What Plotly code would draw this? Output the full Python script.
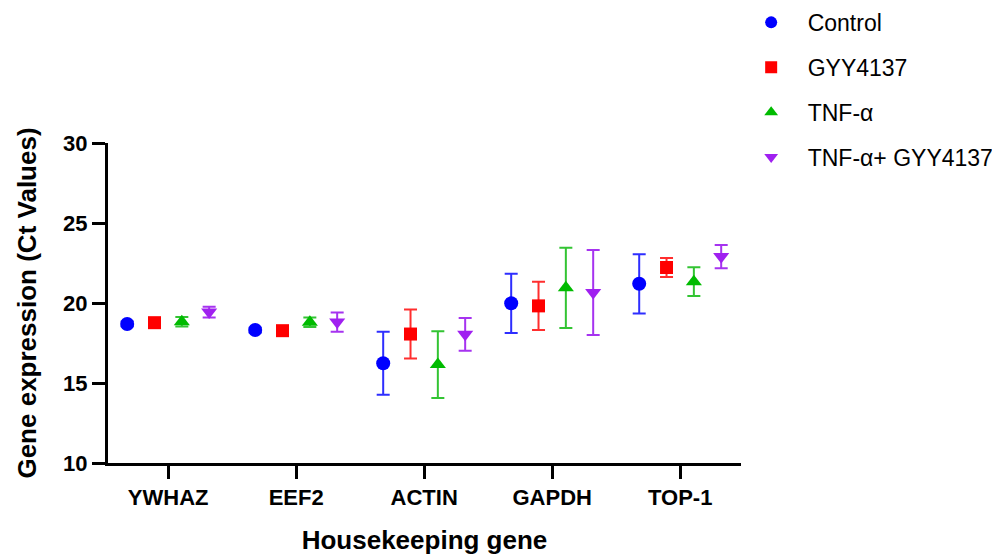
import plotly.graph_objects as go

genes = ["YWHAZ", "EEF2", "ACTIN", "GAPDH", "TOP-1"]
series_names = ["Control", "GYY4137", "TNF-α", "TNF-α+ GYY4137"]

control_mean = [18.69, 18.31, 16.23, 19.98, 21.20]
control_err = [0.15, 0.15, 1.97, 1.85, 1.85]
gyy_mean = [18.77, 18.27, 18.06, 19.82, 22.22]
gyy_err = [0.15, 0.15, 1.53, 1.51, 0.60]
tnf_mean = [18.83, 18.80, 16.15, 20.95, 21.33]
tnf_err = [0.30, 0.30, 2.08, 2.51, 0.90]
tnfgyy_mean = [19.43, 18.81, 18.04, 20.66, 22.90]
tnfgyy_err = [0.33, 0.60, 1.02, 2.66, 0.73]

y_ticks = [10, 15, 20, 25, 30]

means = [control_mean, gyy_mean, tnf_mean, tnfgyy_mean]
errs = [control_err, gyy_err, tnf_err, tnfgyy_err]
colors = ["#0000FF", "#FF0000", "#00BB00", "#A020F0"]
err_colors = ["#2E2EFF", "#FF2E2E", "#33C433", "#A633F0"]
symbols = ["circle", "square", "triangle-up", "triangle-down"]
sizes = [14, 13, 14, 14]

FONT = "Arial, 'Liberation Sans', sans-serif"
slot = 0.2135

fig = go.Figure()
for i, name in enumerate(series_names):
    xs = [g + (i - 1.5) * slot for g in range(len(genes))]
    fig.add_trace(go.Scatter(
        x=xs, y=means[i], mode="markers", name=name,
        legendgroup=name,
        marker=dict(symbol=symbols[i], color=colors[i], size=sizes[i], line=dict(width=0)),
        error_y=dict(type="data", array=errs[i], visible=True, color=err_colors[i],
                     thickness=2, width=6.5),
    ))

# page body has an 8px margin, so the figure is 8px smaller and margins shifted
fig.update_layout(
    width=992, height=548,
    paper_bgcolor="white", plot_bgcolor="white",
    margin=dict(l=100, r=259, t=135, b=93, autoexpand=False),
    font=dict(family=FONT, color="black"),
    showlegend=True,
    legend=dict(
        x=0.99, y=1.444, xanchor="left", yanchor="top",
        font=dict(family=FONT, size=23, color="black"),
        tracegroupgap=12, itemsizing="constant", itemwidth=63,
        bgcolor="rgba(0,0,0,0)",
    ),
    xaxis=dict(
        range=[-0.47, 4.475],
        tickmode="array", tickvals=list(range(len(genes))), ticktext=genes,
        showline=True, linecolor="black", linewidth=3,
        ticks="outside", ticklen=13, tickwidth=3, tickcolor="black",
        showgrid=False, zeroline=False,
        tickfont=dict(family=FONT, size=22, color="black", weight="bold"),
        title=dict(text="<b>Housekeeping gene</b>", font=dict(family=FONT, size=26, color="black"),
                   standoff=22),
        automargin=False,
    ),
    yaxis=dict(
        range=[10, 30],
        tickmode="array", tickvals=y_ticks, ticktext=[str(t) for t in y_ticks],
        showline=True, linecolor="black", linewidth=3,
        ticks="outside", ticklen=13, tickwidth=3, tickcolor="black",
        showgrid=False, zeroline=False,
        tickfont=dict(family=FONT, size=22, color="black", weight="bold"),
        title=dict(text="<b>Gene expression (Ct Values)</b>", font=dict(family=FONT, size=26, color="black"),
                   standoff=20),
        automargin=False,
    ),
)

fig.write_html("out.html")
